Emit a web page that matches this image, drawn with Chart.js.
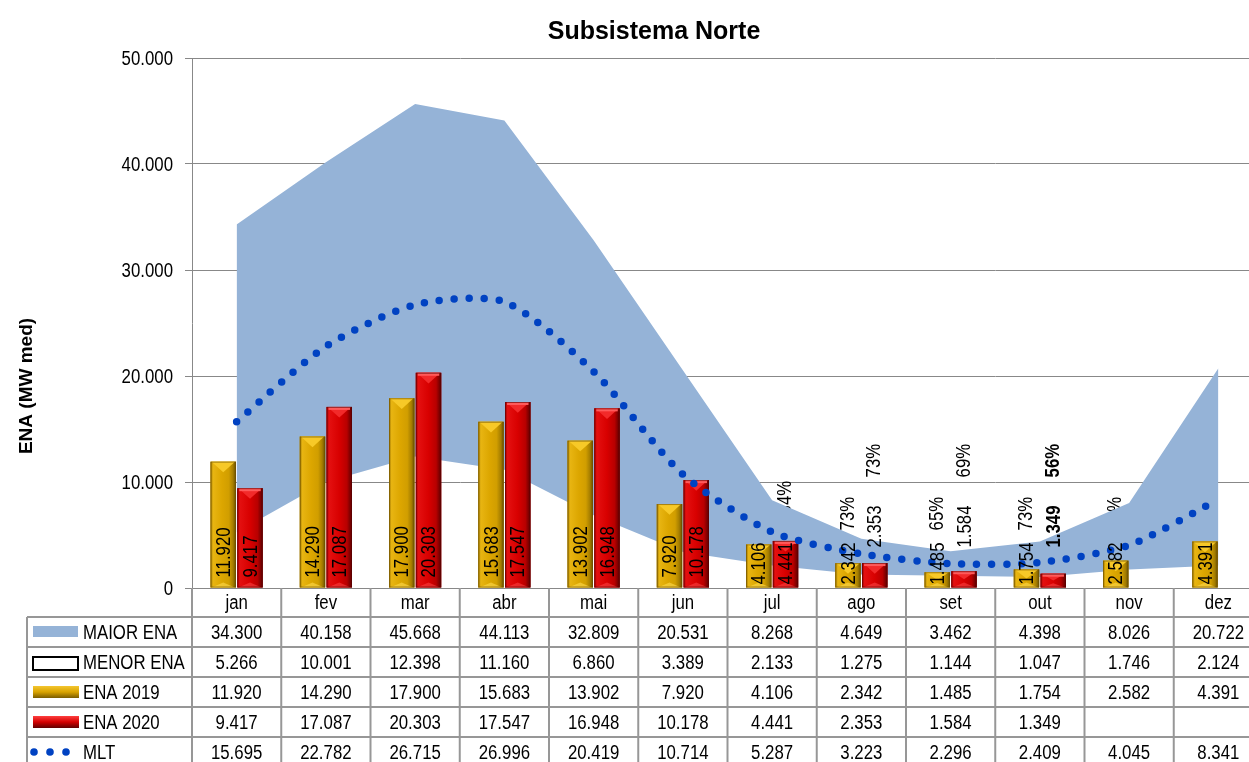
<!DOCTYPE html>
<html><head><meta charset="utf-8">
<script src="https://cdn.jsdelivr.net/npm/chart.js@4.4.1/dist/chart.umd.min.js"></script>
<style>
html,body{margin:0;padding:0;background:#fff;overflow:hidden;width:1249px;height:762px}
#wrap{position:absolute;left:0;top:0;width:1263px;height:762px}
</style>
</head><body><div id="wrap"><canvas id="c"></canvas></div>
<script>
const months = ['jan','fev','mar','abr','mai','jun','jul','ago','set','out','nov','dez'];
const maiorENA = [34300,40158,45668,44113,32809,20531,8268,4649,3462,4398,8026,20722];
const menorENA = [5266,10001,12398,11160,6860,3389,2133,1275,1144,1047,1746,2124];
const ena2019 = [11920,14290,17900,15683,13902,7920,4106,2342,1485,1754,2582,4391];
const ena2020 = [9417,17087,20303,17547,16948,10178,4441,2353,1584,1349,null,null];
const mlt = [15695,22782,26715,26996,20419,10714,5287,3223,2296,2409,4045,8341];
const yTickValues = [0,10000,20000,30000,40000,50000];
const seriesNames = ['MAIOR ENA','MENOR ENA','ENA 2019','ENA 2020','MLT'];
const chartTitle = 'Subsistema Norte';
const yTitle = 'ENA (MW med)';

const C_BAND = '#95B3D7', C_MLT = '#0042C2', C_GOLD = '#D9A300', C_RED = '#D40000';
const FONT = '"Liberation Sans", Arial, sans-serif';
const SX = 0.84, FS = 20;
const fmt = n => String(n).replace(/\B(?=(\d{3})+(?!\d))/g, '.');

// narrow text helper (Arial-Narrow look)
function nText(ctx, txt, x, y, o) {
  o = Object.assign({ size: FS, bold: false, align: 'center', baseline: 'middle', rot: 0, sx: SX }, o || {});
  ctx.save();
  ctx.translate(x, y);
  if (o.rot) ctx.rotate(o.rot);
  ctx.scale(o.sx, 1);
  ctx.font = (o.bold ? 'bold ' : '') + o.size + 'px ' + FONT;
  ctx.fillStyle = '#000';
  ctx.textAlign = o.align; ctx.textBaseline = o.baseline;
  ctx.fillText(txt, 0, 0);
  ctx.restore();
}
function nWidth(ctx, txt, bold) {
  ctx.save();
  ctx.font = (bold ? 'bold ' : '') + FS + 'px ' + FONT;
  const w = ctx.measureText(txt).width * SX;
  ctx.restore();
  return w;
}

function goldGrad(ctx, l, r) {
  const g = ctx.createLinearGradient(l, 0, r, 0);
  g.addColorStop(0, '#9C7600'); g.addColorStop(0.1, '#E8B512');
  g.addColorStop(0.45, '#DCA600'); g.addColorStop(0.72, '#D19E00');
  g.addColorStop(0.88, '#A67E00'); g.addColorStop(1, '#6A5000');
  return g;
}
function redGrad(ctx, l, r) {
  const g = ctx.createLinearGradient(l, 0, r, 0);
  g.addColorStop(0, '#A00000'); g.addColorStop(0.1, '#E41010');
  g.addColorStop(0.5, '#D80000'); g.addColorStop(0.8, '#B80000');
  g.addColorStop(1, '#5A0000');
  return g;
}

const barStyle = {
  id: 'barStyle',
  afterDatasetDraw(chart, args) {
    const ds = chart.data.datasets[args.index];
    if (ds.type !== 'bar') return;
    const ctx = chart.ctx;
    const gold = args.index === 2;
    args.meta.data.forEach((el, i) => {
      if (ds.data[i] == null) return;
      const l = el.x - el.width / 2, r = el.x + el.width / 2, t = el.y, b = el.base;
      const h = b - t, w = r - l;
      ctx.save();
      ctx.fillStyle = gold ? goldGrad(ctx, l, r) : redGrad(ctx, l, r);
      ctx.fillRect(l, t, w, h);
      const d = Math.min(w * 0.42, h * 0.5);
      ctx.beginPath();
      ctx.moveTo(l + 1, t); ctx.lineTo(r - 1, t); ctx.lineTo(el.x, t + d); ctx.closePath();
      ctx.fillStyle = gold ? '#F7C928' : '#F22A2A';
      ctx.fill();
      if (!gold) { ctx.fillStyle = '#FF5A5A'; ctx.fillRect(l + 2, t, w - 4, Math.min(3, h)); }
      const d2 = Math.min(w * 0.2, h * 0.3);
      ctx.beginPath();
      ctx.moveTo(l + 1, b); ctx.lineTo(r - 1, b); ctx.lineTo(el.x, b - d2); ctx.closePath();
      ctx.fillStyle = gold ? 'rgba(255,220,80,0.6)' : 'rgba(255,80,80,0.5)';
      ctx.fill();
      ctx.strokeStyle = gold ? 'rgba(110,80,0,0.6)' : 'rgba(90,0,0,0.6)';
      ctx.lineWidth = 1;
      ctx.strokeRect(l + 0.5, t + 0.5, w - 1, h - 1);
      ctx.restore();
    });
  }
};

function lastIdx(arr) { let k = -1; arr.forEach((v, i) => { if (v != null) k = i; }); return k; }
function labelGeom(chart, dsIndex, i) {
  const ds = chart.data.datasets[dsIndex];
  const v = ds.data[i];
  const el = chart.getDatasetMeta(dsIndex).data[i];
  const bold = dsIndex === 3 && i === lastIdx(ds.data);
  const txt = fmt(v);
  const tw = nWidth(chart.ctx, txt, bold);
  const h = el.base - el.y;
  let start;
  if (dsIndex === 3 && h < tw + 2) start = el.base - 40;
  else start = el.base - Math.max(3, Math.min(10, (h - tw) / 2));
  const pctStart = start - tw - (dsIndex === 2 ? 12 : 28);
  return { x: el.x, start, txt, pctStart, bold };
}

const labels = {
  id: 'labels',
  beforeDatasetsDraw(chart) {
    const ctx = chart.ctx;
    [2, 3].forEach(di => {
      chart.data.datasets[di].data.forEach((v, i) => {
        if (v == null) return;
        const g = labelGeom(chart, di, i);
        const pct = Math.round(v / mlt[i] * 100) + '%';
        nText(ctx, pct, g.x, g.pctStart, { rot: -Math.PI / 2, align: 'left', bold: g.bold });
      });
    });
  },
  afterDatasetsDraw(chart) {
    const ctx = chart.ctx;
    [2, 3].forEach(di => {
      chart.data.datasets[di].data.forEach((v, i) => {
        if (v == null) return;
        const g = labelGeom(chart, di, i);
        nText(ctx, g.txt, g.x + 1, g.start, { rot: -Math.PI / 2, align: 'left', bold: g.bold });
      });
    });
  },
  afterDraw(chart) {
    const ctx = chart.ctx, ys = chart.scales.y;
    // y tick labels
    yTickValues.forEach(v => nText(ctx, fmt(v), 173, ys.getPixelForValue(v) + 1, { align: 'right' }));
    ctx.save();
    ctx.fillStyle = '#000';
    ctx.font = 'bold 25px ' + FONT;
    ctx.textAlign = 'center'; ctx.textBaseline = 'middle';
    ctx.fillText(chartTitle, 654, 32);
    ctx.translate(27, 386); ctx.rotate(-Math.PI / 2);
    ctx.font = 'bold 19px ' + FONT;
    ctx.fillText(yTitle, 0, 0);
    ctx.restore();
  }
};

const table = {
  id: 'table',
  afterDraw(chart) {
    const ctx = chart.ctx, xs = chart.scales.x;
    const top = chart.chartArea.bottom;
    const half = (xs.getPixelForValue(1) - xs.getPixelForValue(0)) / 2;
    const rows = [top + 29, top + 59, top + 89, top + 119, top + 149, top + 179];
    const legL = 27, right = chart.width;
    const rowsData = [maiorENA, menorENA, ena2019, ena2020, mlt];
    ctx.save();
    ctx.strokeStyle = '#979797'; ctx.lineWidth = 2;
    rows.forEach(y => { ctx.beginPath(); ctx.moveTo(legL, y); ctx.lineTo(right, y); ctx.stroke(); });
    ctx.beginPath(); ctx.moveTo(legL, rows[0]); ctx.lineTo(legL, chart.height); ctx.stroke();
    for (let i = 0; i <= months.length; i++) {
      const x = xs.getPixelForValue(0) - half + i * 2 * half;
      ctx.beginPath(); ctx.moveTo(x, top); ctx.lineTo(x, chart.height); ctx.stroke();
    }
    ctx.restore();
    months.forEach((m, i) => nText(ctx, m, xs.getPixelForValue(i), (top + rows[0]) / 2 + 1));
    rowsData.forEach((arr, r) => {
      const cy = rows[r] + 16;
      arr.forEach((v, i) => { if (v != null) nText(ctx, fmt(v), xs.getPixelForValue(i), cy); });
    });
    seriesNames.forEach((n, r) => {
      const cy = rows[r] + 15;
      nText(ctx, n, 83, cy + 1, { align: 'left' });
      ctx.save();
      if (r === 0) { ctx.fillStyle = C_BAND; ctx.fillRect(33, cy - 6, 45, 11); }
      if (r === 1) { ctx.fillStyle = '#fff'; ctx.fillRect(33, cy - 5, 45, 13); ctx.strokeStyle = '#000'; ctx.lineWidth = 2; ctx.strokeRect(33, cy - 5, 45, 13); }
      if (r === 2 || r === 3) {
        const g = ctx.createLinearGradient(0, cy - 6, 0, cy + 6);
        if (r === 2) { g.addColorStop(0, '#F4C630'); g.addColorStop(0.5, '#D9A300'); g.addColorStop(1, '#7A5C00'); }
        else { g.addColorStop(0, '#FF4040'); g.addColorStop(0.5, '#D40000'); g.addColorStop(1, '#600000'); }
        ctx.fillStyle = g; ctx.fillRect(33, cy - 6, 46, 12);
      }
      if (r === 4) {
        ctx.fillStyle = C_MLT;
        [34, 50, 66].forEach(x => { ctx.beginPath(); ctx.arc(x, cy, 3.8, 0, Math.PI * 2); ctx.fill(); });
      }
      ctx.restore();
    });
  }
};

new Chart(document.getElementById('c'), {
  data: {
    labels: months,
    datasets: [
      { type: 'line', label: seriesNames[0], data: maiorENA, borderColor: 'rgba(0,0,0,0)', borderWidth: 1,
        backgroundColor: C_BAND, fill: '+1', pointRadius: 0, tension: 0, order: 3 },
      { type: 'line', label: seriesNames[1], data: menorENA, borderColor: 'rgba(0,0,0,0)', borderWidth: 1,
        backgroundColor: 'rgba(0,0,0,0)', fill: false, pointRadius: 0, tension: 0, order: 3 },
      { type: 'bar', label: seriesNames[2], data: ena2019, backgroundColor: C_GOLD,
        barPercentage: 0.95, categoryPercentage: 0.6, order: 2 },
      { type: 'bar', label: seriesNames[3], data: ena2020, backgroundColor: C_RED,
        barPercentage: 0.95, categoryPercentage: 0.6, order: 2 },
      { type: 'line', label: seriesNames[4], data: mlt, borderColor: C_MLT, borderWidth: 7.5,
        borderDash: [0, 15], borderCapStyle: 'round', pointRadius: 0, tension: 0.25, fill: false, order: 1 }
    ]
  },
  options: {
    responsive: true, maintainAspectRatio: false, animation: false,
    layout: { padding: { top: 58, left: 0, right: 0, bottom: 0 } },
    plugins: { legend: { display: false }, tooltip: { enabled: false }, title: { display: false } },
    scales: {
      x: {
        ticks: { display: false }, grid: { display: false }, border: { display: false },
        afterFit(s) { s.height = 174; }
      },
      y: {
        min: 0, max: 50000,
        afterBuildTicks(s) { s.ticks = yTickValues.map(v => ({ value: v })); },
        ticks: { display: false },
        grid: { color: '#888', lineWidth: 1, tickLength: 7, drawTicks: true },
        border: { display: true, color: '#888', width: 1 },
        afterFit(s) { s.width = 192; }
      }
    }
  },
  plugins: [barStyle, labels, table]
});
</script>
</body></html>
